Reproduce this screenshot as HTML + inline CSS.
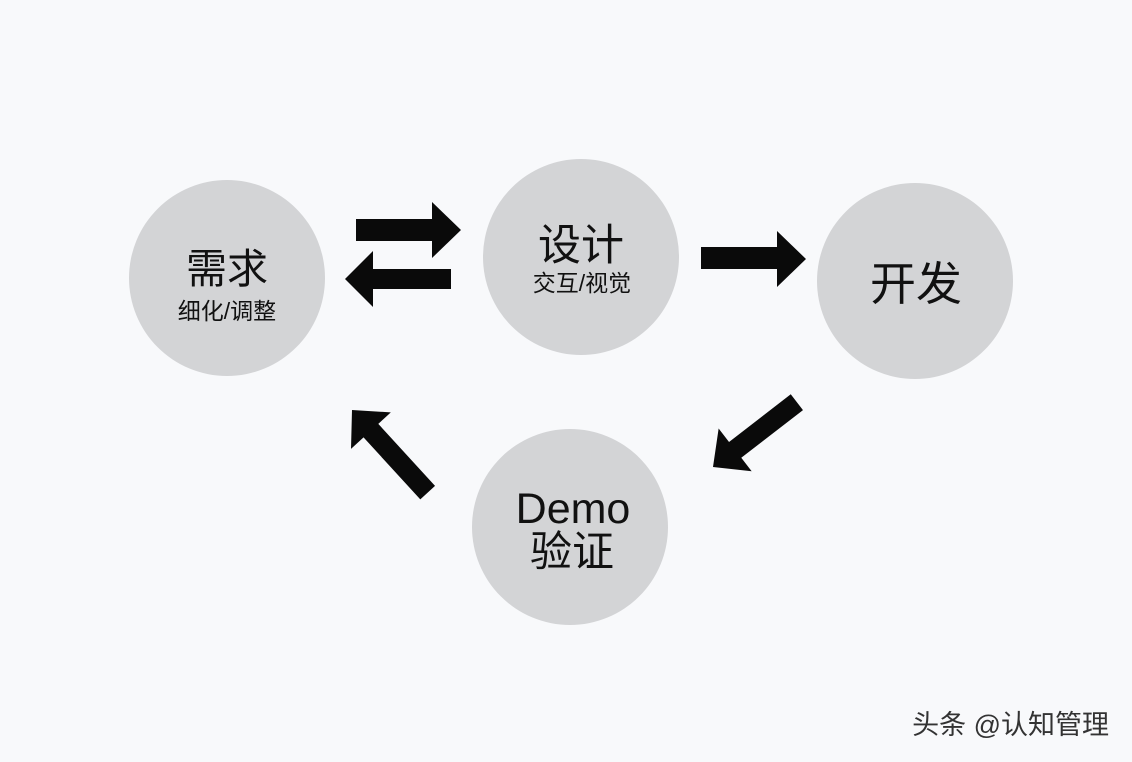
<!DOCTYPE html>
<html><head><meta charset="utf-8">
<style>
html,body{margin:0;padding:0;background:#f8f9fb;}
svg{display:block}
text{font-family:"Liberation Sans","Noto Sans CJK SC",sans-serif;fill:#111;}
</style></head>
<body>
<svg width="1132" height="762" viewBox="0 0 1132 762" xmlns="http://www.w3.org/2000/svg">
<rect width="1132" height="762" fill="#f8f9fb"/>
<g fill="#d3d4d6">
<circle cx="227" cy="278" r="98"/>
<circle cx="581" cy="257" r="98"/>
<circle cx="915" cy="281" r="98"/>
<circle cx="570" cy="527" r="98"/>
</g>
<g fill="#0a0a0a">
<polygon points="356,219 432,219 432,202 461,230 432,258 432,241 356,241"/>
<polygon points="451,269 373,269 373,251 345,279 373,307 373,289 451,289"/>
<polygon points="701,247 777,247 777,231 806,259 777,287 777,269 701,269"/>
<g transform="translate(713,467) rotate(142.3)">
<polygon points="-106,-10 -28,-10 -28,-27 0,0 -28,27 -28,10 -106,10"/>
</g>
<g transform="translate(352,410) rotate(-132.5)">
<polygon points="-112,-10 -28,-10 -28,-27 0,0 -28,27 -28,10 -112,10"/>
</g>
</g>
<text x="227" y="283" font-size="41" text-anchor="middle">需求</text>
<text x="227" y="319" font-size="23" text-anchor="middle">细化/调整</text>
<text x="581" y="260" font-size="43" text-anchor="middle">设计</text>
<text x="582" y="291" font-size="23" text-anchor="middle">交互/视觉</text>
<text x="916" y="300" font-size="46" text-anchor="middle">开发</text>
<text x="573" y="523" font-size="43" text-anchor="middle">Demo</text>
<text x="572" y="566" font-size="42" text-anchor="middle">验证</text>
<text x="1109" y="734" font-size="27" text-anchor="end" style="fill:#333">头条 @认知管理</text>
</svg>
</body></html>
